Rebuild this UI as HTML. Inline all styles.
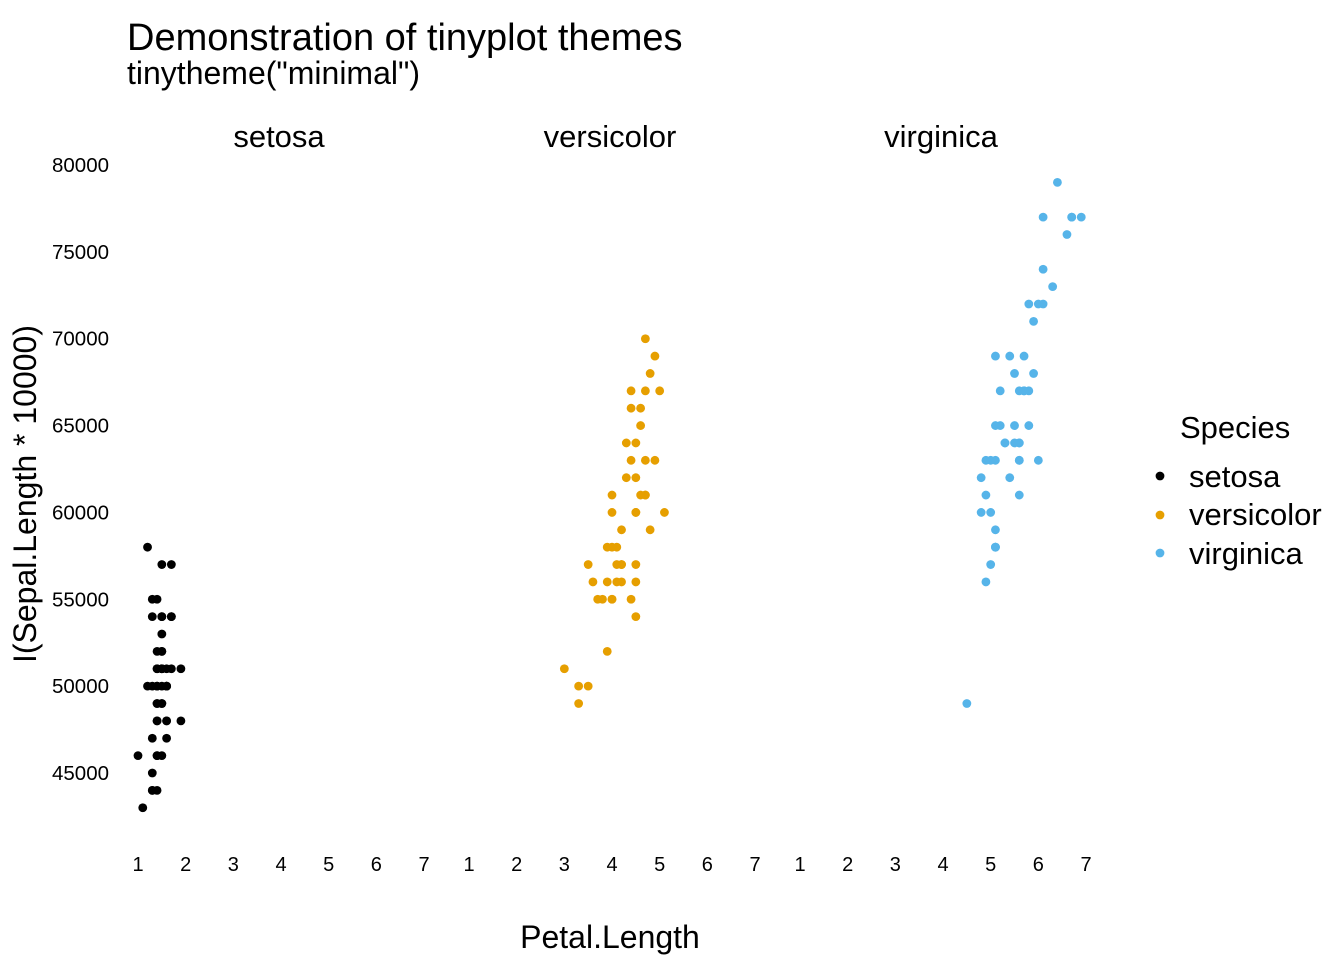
<!DOCTYPE html>
<html><head><meta charset="utf-8"><style>
body{margin:0;background:#fff;}
svg{display:block;font-family:"Liberation Sans",sans-serif;}
</style></head><body>
<svg id="chart" width="1344" height="960" viewBox="0 0 1344 960">
<text x="127" y="50" font-size="38">Demonstration of tinyplot themes</text>
<text x="127" y="84" font-size="32">tinytheme("minimal")</text>
<text x="610" y="948" font-size="32" text-anchor="middle">Petal.Length</text>
<text transform="translate(36,494) rotate(-90)" font-size="32" text-anchor="middle">I(Sepal.Length * 10000)</text>
<g id="yaxis"></g>
<g id="xaxis"></g>
<g id="facets"></g>
<g id="points"></g>
<g>
<text x="1180" y="438" font-size="31">Species</text>
<circle cx="1160" cy="476" r="4.4" fill="#000"/>
<text x="1189" y="487" font-size="31">setosa</text>
<circle cx="1160" cy="515" r="4.4" fill="#E69F00"/>
<text x="1189" y="525" font-size="31">versicolor</text>
<circle cx="1160" cy="553" r="4.4" fill="#56B4E9"/>
<text x="1189" y="564" font-size="31">virginica</text>
</g>
</svg>
<script>
const species = ["setosa","versicolor","virginica"];
const colors = ["#000000","#E69F00","#56B4E9"];
const xTicks = [1,2,3,4,5,6,7];
const yTicks = [45000,50000,55000,60000,65000,70000,75000,80000];
const setosaPetal = [1.4,1.4,1.3,1.5,1.4,1.7,1.4,1.5,1.4,1.5,1.5,1.6,1.4,1.1,1.2,1.5,1.3,1.4,1.7,1.5,1.7,1.5,1.0,1.7,1.9,1.6,1.6,1.5,1.4,1.6,1.6,1.5,1.5,1.4,1.5,1.2,1.3,1.4,1.3,1.5,1.3,1.3,1.3,1.6,1.9,1.4,1.6,1.4,1.5,1.4];
const setosaSepal = [5.1,4.9,4.7,4.6,5.0,5.4,4.6,5.0,4.4,4.9,5.4,4.8,4.8,4.3,5.8,5.7,5.4,5.1,5.7,5.1,5.4,5.1,4.6,5.1,4.8,5.0,5.0,5.2,5.2,4.7,4.8,5.4,5.2,5.5,4.9,5.0,5.5,4.9,4.4,5.1,5.0,4.5,4.4,5.0,5.1,4.8,5.1,4.6,5.3,5.0];
const versicolorPetal = [4.7,4.5,4.9,4.0,4.6,4.5,4.7,3.3,4.6,3.9,3.5,4.2,4.0,4.7,3.6,4.4,4.5,4.1,4.5,3.9,4.8,4.0,4.9,4.7,4.3,4.4,4.8,5.0,4.5,3.5,3.8,3.7,3.9,5.1,4.5,4.5,4.7,4.4,4.1,4.0,4.4,4.6,4.0,3.3,4.2,4.2,4.2,4.3,3.0,4.1];
const versicolorSepal = [7.0,6.4,6.9,5.5,6.5,5.7,6.3,4.9,6.6,5.2,5.0,5.9,6.0,6.1,5.6,6.7,5.6,5.8,6.2,5.6,5.9,6.1,6.3,6.1,6.4,6.6,6.8,6.7,6.0,5.7,5.5,5.5,5.8,6.0,5.4,6.0,6.7,6.3,5.6,5.5,5.5,6.1,5.8,5.0,5.6,5.7,5.7,6.2,5.1,5.7];
const virginicaPetal = [6.0,5.1,5.9,5.6,5.8,6.6,4.5,6.3,5.8,6.1,5.1,5.3,5.5,5.0,5.1,5.3,5.5,6.7,6.9,5.0,5.7,4.9,6.7,4.9,5.7,6.0,4.8,4.9,5.6,5.8,6.1,6.4,5.6,5.1,5.6,6.1,5.6,5.5,4.8,5.4,5.6,5.1,5.1,5.9,5.7,5.2,5.0,5.2,5.4,5.1];
const virginicaSepal = [6.3,5.8,7.1,6.3,6.5,7.6,4.9,7.3,6.7,7.2,6.5,6.4,6.8,5.7,5.8,6.4,6.5,7.7,7.7,6.0,6.9,5.6,7.7,6.3,6.7,7.2,6.2,6.1,6.4,7.2,7.4,7.9,6.4,6.3,6.1,7.7,6.3,6.4,6.0,6.9,6.7,6.9,5.8,6.8,6.7,6.7,6.3,6.5,6.2,5.9];
const petals=[setosaPetal,versicolorPetal,virginicaPetal];
const sepals=[setosaSepal,versicolorSepal,virginicaSepal];
const NS="http://www.w3.org/2000/svg";
const panelX0=[138,469,800];
function xs(p,v){return panelX0[p]+(v-1)*47.67;}
function ys(v){return 165+(80000-v)*608/35000;}
function mk(tag,attrs,parent,txt){const e=document.createElementNS(NS,tag);for(const k in attrs)e.setAttribute(k,attrs[k]);if(txt!==undefined)e.textContent=txt;parent.appendChild(e);return e;}
const ya=document.getElementById('yaxis');
yTicks.forEach(t=>{const e=mk('text',{x:109,y:ys(t)+7,'font-size':20.5,'text-anchor':'end'},ya,String(t));

});
const xa=document.getElementById('xaxis');
const fa=document.getElementById('facets');
const pg=document.getElementById('points');
species.forEach((s,p)=>{
 xTicks.forEach(t=>{const e=mk('text',{x:xs(p,t),y:871,'font-size':20,'text-anchor':'middle'},xa,String(t));
 
 });
 const f=mk('text',{x:xs(p,4)-2,y:147,'font-size':31,'text-anchor':'middle'},fa,s);
 
 
 petals[p].forEach((v,i)=>{const c=mk('circle',{cx:xs(p,v),cy:ys(sepals[p][i]*10000),r:4.4,fill:colors[p]},pg);
 
 });
});
</script>
</body></html>
